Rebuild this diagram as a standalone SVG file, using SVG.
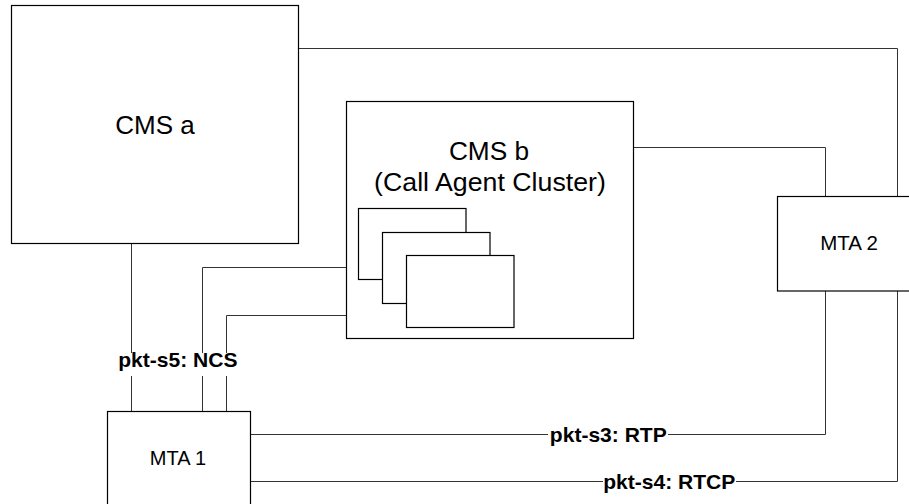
<svg xmlns="http://www.w3.org/2000/svg" width="909" height="504" viewBox="0 0 909 504">
<style>
.box{fill:#fff;stroke:#000;stroke-width:1.2}
.ln{fill:none;stroke:#333;stroke-width:1}
.t{font-family:"Liberation Sans",Arial,sans-serif;fill:#000;text-anchor:middle}
.lb{font-family:"Liberation Sans",Arial,sans-serif;font-weight:bold;fill:#000;font-size:19.5px;text-anchor:middle}
</style>
<rect width="909" height="504" fill="#fff"/>
<g id="connectors">
<polyline class="ln" points="299,48.5 897.5,48.5 897.5,196"/>
<polyline class="ln" points="634,147.5 825.5,147.5 825.5,196"/>
<line class="ln" x1="131.5" y1="243" x2="131.5" y2="353"/>
<line class="ln" x1="131.5" y1="376" x2="131.5" y2="411"/>
<polyline class="ln" points="346,267.5 202.5,267.5 202.5,353"/>
<line class="ln" x1="202.5" y1="376" x2="202.5" y2="411"/>
<polyline class="ln" points="346,315.5 226.5,315.5 226.5,353"/>
<line class="ln" x1="226.5" y1="376" x2="226.5" y2="411"/>
<line class="ln" x1="251" y1="434.5" x2="548" y2="434.5"/>
<polyline class="ln" points="668,434.5 825.5,434.5 825.5,291"/>
<line class="ln" x1="251" y1="481.5" x2="603" y2="481.5"/>
<polyline class="ln" points="736,481.5 897.5,481.5 897.5,291"/>
<text class="lb" transform="translate(177.8,367) scale(1.08,1)">pkt-s5: NCS</text>
<text class="lb" transform="translate(608.3,442) scale(1.08,1)">pkt-s3: RTP</text>
<text class="lb" transform="translate(669.3,488.5) scale(1.08,1)">pkt-s4: RTCP</text>
</g>
<g id="cms-a">
<rect class="box" x="11.5" y="5.5" width="287" height="238"/>
<text class="t" x="155" y="134" font-size="26">CMS a</text>
</g>
<g id="cms-b">
<rect class="box" x="346.5" y="101.5" width="287" height="237"/>
<text class="t" font-size="25" transform="translate(489,160) scale(1.05,1)">CMS b</text>
<text class="t" font-size="25" transform="translate(490,191) scale(1.07,1)">(Call Agent Cluster)</text>
<rect class="box" x="358.5" y="208.5" width="107.5" height="71"/>
<rect class="box" x="382.5" y="232.5" width="107.5" height="71"/>
<rect class="box" x="406.5" y="255.5" width="107.5" height="72"/>
</g>
<g id="mta-2">
<rect class="box" x="777.5" y="196.5" width="150" height="94.5"/>
<text class="t" x="849" y="250" font-size="20.5">MTA 2</text>
</g>
<g id="mta-1">
<rect class="box" x="107.5" y="411.5" width="143" height="100"/>
<text class="t" x="178" y="465" font-size="20">MTA 1</text>
</g>
</svg>
